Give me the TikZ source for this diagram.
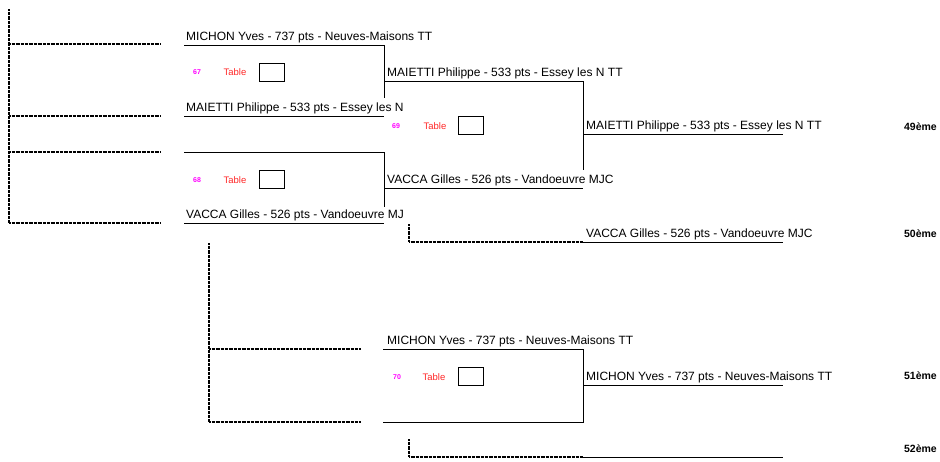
\documentclass[tikz,border=0pt]{standalone}
\usepackage{fontspec}
\setmainfont{Liberation Sans}
\usepackage{xcolor}
\usetikzlibrary{positioning}
\definecolor{tablered}{RGB}{255,40,40}
\definecolor{matchpink}{RGB}{255,0,255}

\begin{document}
\begin{tikzpicture}[x=1pt, y=-1pt, font=\fontsize{12}{14}\selectfont,
    player/.style={anchor=base west, inner sep=0pt},
    rank/.style={anchor=base east, inner sep=0pt, font=\fontsize{10.5}{12}\selectfont\bfseries},
    matchno/.style={inner sep=0pt, text=matchpink, font=\fontsize{7}{8}\selectfont\bfseries},
    tablelbl/.style={inner sep=0pt, text=tablered, font=\fontsize{9.5}{11}\selectfont},
    tablebox/.style={draw, line width=0.8pt, minimum width=25pt, minimum height=18pt, inner sep=0pt},
    win/.style={line width=0.8pt},
    feed/.style={line width=1.2pt, dash pattern=on 0.9pt off 0.4pt}]
        \useasboundingbox (0,0) rectangle (940,461);

        % left feeder lines
        \coordinate (f0) at (9,9);
        \coordinate (f1) at (9,44);   \coordinate (f1e) at (160,44);
        \coordinate (f2) at (9,116);  \coordinate (f2e) at (160,116);
        \coordinate (f3) at (9,152);  \coordinate (f3e) at (160,152);
        \coordinate (f4) at (9,223);  \coordinate (f4e) at (160,223);
        \draw[feed] (f0) -- (f4);
        \draw[feed] (f1) -- (f1e);
        \draw[feed] (f2) -- (f2e);
        \draw[feed] (f3) -- (f3e);
        \draw[feed] (f4) -- (f4e);

        % first round
        \coordinate (a1) at (184,45);  \coordinate (a1e) at (384,45);
        \coordinate (a2) at (184,116); \coordinate (a2e) at (384,116);
        \coordinate (a3) at (184,152); \coordinate (a3e) at (384,152);
        \coordinate (a4) at (184,223); \coordinate (a4e) at (384,223);
        \coordinate (v1) at (384,98);  \coordinate (v2) at (384,207);
        \draw[win] (a1) -- (a1e) -- (v1);
        \draw[win] (a2) -- (a2e);
        \draw[win] (a3) -- (a3e) -- (v2);
        \draw[win] (a4) -- (a4e);
        \node[player] (n1) at (186,40) {MICHON Yves - 737 pts - Neuves-Maisons TT};
        \node[player] (n2) at (186,111) {MAIETTI Philippe - 533 pts - Essey les N};
        \node[player] (n4) at (186,218) {VACCA Gilles - 526 pts - Vandoeuvre MJ};
        \node[matchno] (m67) at (197,72) {67};
        \node[tablelbl, right=38pt of m67.center, anchor=center] (t67) {Table};
        \node[tablebox] (b67) at (271.5,72) {};
        \node[matchno] (m68) at (197,180) {68};
        \node[tablelbl, right=38pt of m68.center, anchor=center] (t68) {Table};
        \node[tablebox] (b68) at (271.5,179) {};

        % second round
        \coordinate (b1) at (384,81);  \coordinate (b1e) at (583,81);
        \coordinate (b2) at (384,188); \coordinate (b2e) at (583,188);
        \coordinate (v3) at (583,170);
        \draw[win] (b1) -- (b1e) -- (v3);
        \draw[win] (b2) -- (b2e);
        \node[player] (n5) at (387,76) {MAIETTI Philippe - 533 pts - Essey les N TT};
        \node[player] (n6) at (387,183) {VACCA Gilles - 526 pts - Vandoeuvre MJC};
        \node[matchno] (m69) at (396,126) {69};
        \node[tablelbl, right=39pt of m69.center, anchor=center] (t69) {Table};
        \node[tablebox] (b69) at (470.5,125) {};

        % places 49 / 50
        \coordinate (c1) at (583,134); \coordinate (c1e) at (783,134);
        \draw[win] (c1) -- (c1e);
        \node[player] (n7) at (586,129) {MAIETTI Philippe - 533 pts - Essey les N TT};
        \node[rank] (r49) at (937,130) {49ème};
        \coordinate (l1) at (409,224); \coordinate (l1c) at (409,242);
        \coordinate (l1m) at (583,242); \coordinate (l1e) at (783,242);
        \draw[feed] (l1) -- (l1c) -- (l1m);
        \draw[win] (l1m) -- (l1e);
        \node[player] (n8) at (586,237) {VACCA Gilles - 526 pts - Vandoeuvre MJC};
        \node[rank] (r50) at (937,237) {50ème};

        % lower bracket
        \coordinate (g0) at (209,243);
        \coordinate (g1) at (209,349); \coordinate (g1e) at (360,349);
        \coordinate (g2) at (209,422); \coordinate (g2e) at (360,422);
        \draw[feed] (g0) -- (g2);
        \draw[feed] (g1) -- (g1e);
        \draw[feed] (g2) -- (g2e);
        \coordinate (d1) at (383,349); \coordinate (d1e) at (583,349);
        \coordinate (d2) at (383,422); \coordinate (d2e) at (583,422);
        \draw[win] (d1) -- (d1e) -- (d2e) -- (d2);
        \node[player] (n9) at (387,344) {MICHON Yves - 737 pts - Neuves-Maisons TT};
        \node[matchno] (m70) at (397,377) {70};
        \node[tablelbl, right=37pt of m70.center, anchor=center] (t70) {Table};
        \node[tablebox] (b70) at (470.5,376) {};

        % places 51 / 52
        \coordinate (e1) at (583,385); \coordinate (e1e) at (783,385);
        \draw[win] (e1) -- (e1e);
        \node[player] (n10) at (586,380) {MICHON Yves - 737 pts - Neuves-Maisons TT};
        \node[rank] (r51) at (937,379) {51ème};
        \coordinate (l2) at (409,439); \coordinate (l2c) at (409,457);
        \coordinate (l2m) at (583,457); \coordinate (l2e) at (783,457);
        \draw[feed] (l2) -- (l2c) -- (l2m);
        \draw[win] (l2m) -- (l2e);
        \node[rank] (r52) at (937,452) {52ème};
      \end{tikzpicture}
\end{document}
